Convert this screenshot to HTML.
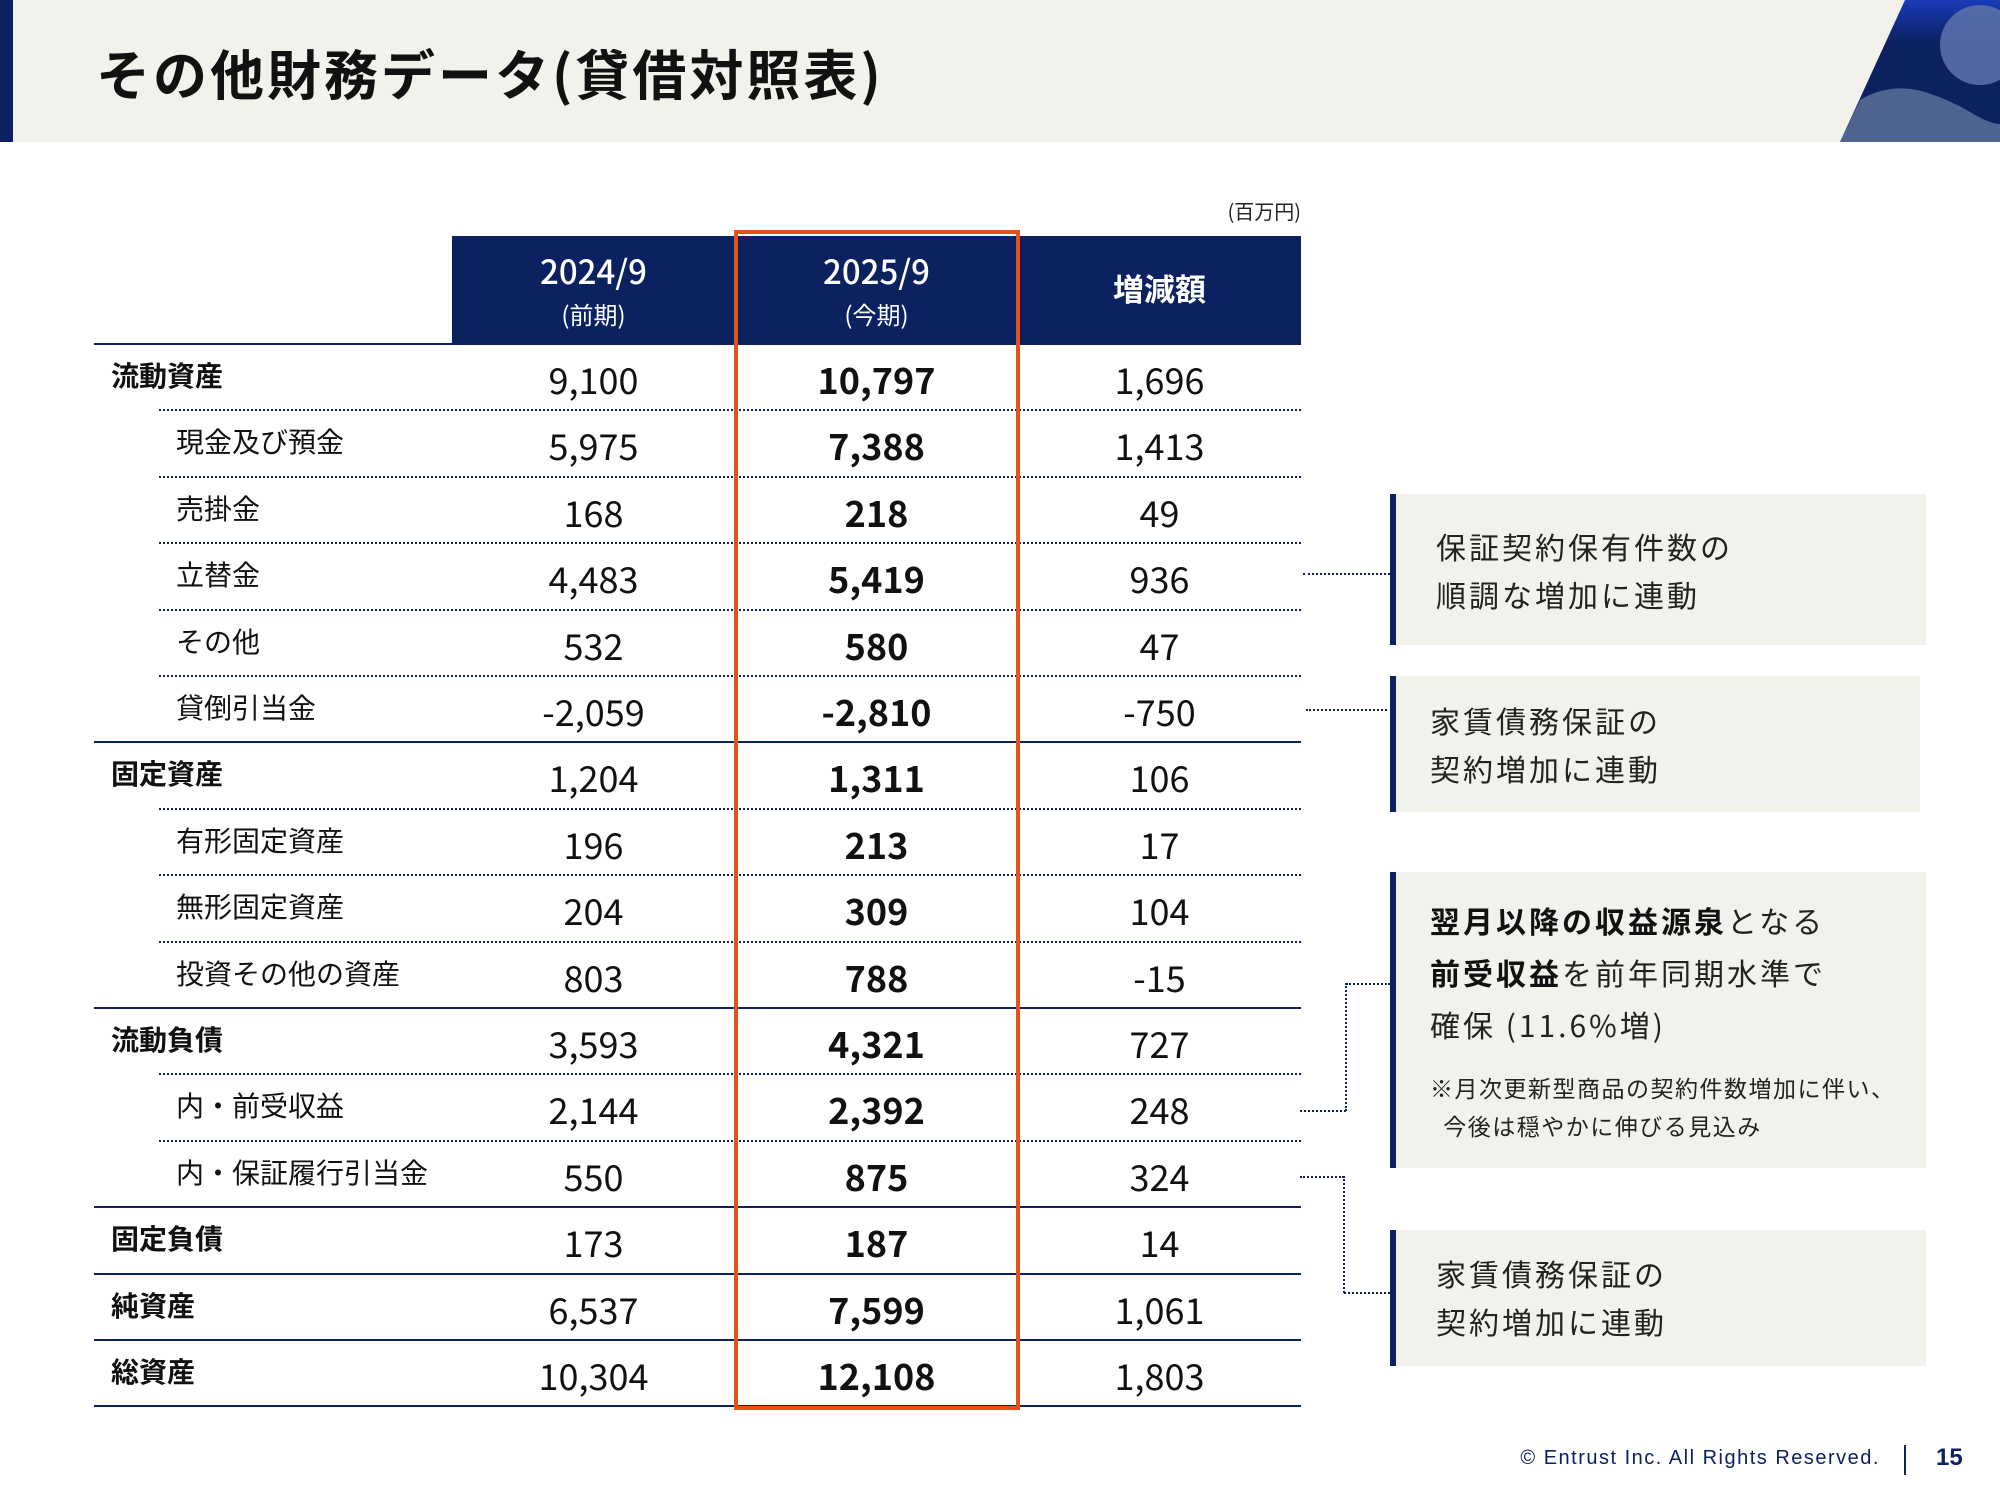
<!DOCTYPE html>
<html><head><meta charset="utf-8"><style>
*{margin:0;padding:0;box-sizing:border-box}
body{width:2000px;height:1500px;position:relative;background:#fff;font-family:"Liberation Sans","Noto Sans CJK JP",sans-serif;color:#111;overflow:hidden}
.a{position:absolute}
.hdr{left:0;top:0;width:2000px;height:142px;background:#f3f1eb}
.title{left:96px;top:32px;font-size:54px;font-weight:bold;letter-spacing:3px;font-family:"Noto Sans CJK JP",sans-serif;color:#111}
.th{background:#0b2160;color:#fff;text-align:center;font-family:"Noto Sans CJK JP",sans-serif}
.lbl{font-family:"Noto Sans CJK JP",sans-serif;font-size:28px;line-height:40px}
.num{font-family:"Noto Sans CJK JP",sans-serif;font-size:36px;line-height:44px;text-align:center;width:283px}
.dot{border-top:2px dotted #0b2160;height:0}
.sol{border-top:2px solid #0b2160;height:0}
.box{background:#f3f1eb;border-left:6px solid #0b2160}
.bt{font-family:"Noto Sans CJK JP",sans-serif;font-size:30px;letter-spacing:3px;color:#222;white-space:nowrap}
.vd{border-left:2px dotted #0b2160;width:0}
</style></head><body>
<div class="a hdr"></div>
<div class="a" style="left:0;top:0;width:13px;height:142px;background:#0b2160"></div>
<div class="a title">その他財務データ(貸借対照表)</div>
<svg class="a" style="left:1830px;top:0" width="170" height="142">
<defs><linearGradient id="g" x1="0" y1="0" x2="0" y2="1"><stop offset="0" stop-color="#1a3bb8"/><stop offset="0.3" stop-color="#0b2160"/><stop offset="1" stop-color="#0b2160"/></linearGradient></defs>
<polygon points="75,0 170,0 170,142 10,142" fill="url(#g)"/>
<circle cx="150" cy="45" r="40" fill="#5a6fa8" opacity="0.9"/>
<path d="M30,100 Q60,82 95,92 Q120,100 140,112 Q160,124 170,124 L170,142 L10,142 Z" fill="#4e6390"/>
</svg>

<div class="a" style="left:1220px;top:196px;font-size:20px;font-family:'Noto Sans CJK JP',sans-serif;width:81px;text-align:right;color:#222">(百万円)</div>

<div class="a th" style="left:452px;top:236px;width:849px;height:108px"></div>
<div class="a th" style="left:452px;top:250px;width:283px;font-size:33px;line-height:40px;font-weight:500">2024/9<br><span style="font-size:24px;line-height:32px;font-weight:400">(前期)</span></div>
<div class="a th" style="left:735px;top:250px;width:283px;font-size:33px;line-height:40px;font-weight:500">2025/9<br><span style="font-size:24px;line-height:32px;font-weight:400">(今期)</span></div>
<div class="a th" style="left:1018px;top:268px;width:283px;font-size:31px;line-height:40px;font-weight:bold">増減額</div>
<div class="a sol" style="left:94px;top:343px;width:1207px"></div>

<div id="rows"></div>
<script>
var R=[["流動資産","9,100","10,797","1,696",1,0],["現金及び預金","5,975","7,388","1,413",0,0],["売掛金","168","218","49",0,0],["立替金","4,483","5,419","936",0,0],["その他","532","580","47",0,0],["貸倒引当金","-2,059","-2,810","-750",0,1],["固定資産","1,204","1,311","106",1,0],["有形固定資産","196","213","17",0,0],["無形固定資産","204","309","104",0,0],["投資その他の資産","803","788","-15",0,1],["流動負債","3,593","4,321","727",1,0],["内・前受収益","2,144","2,392","248",0,0],["内・保証履行引当金","550","875","324",0,1],["固定負債","173","187","14",1,1],["純資産","6,537","7,599","1,061",1,1],["総資産","10,304","12,108","1,803",1,1]];
var h="";
for(var i=0;i<R.length;i++){var r=R[i],t=344+66.4*i;
h+='<div class="a lbl" style="left:'+(r[4]?111:176)+'px;top:'+(t+11)+'px;'+(r[4]?'font-weight:bold;':'')+'">'+r[0]+'</div>';
h+='<div class="a num" style="left:452px;top:'+(t+13)+'px">'+r[1]+'</div>';
h+='<div class="a num" style="left:735px;top:'+(t+13)+'px;font-weight:bold">'+r[2]+'</div>';
h+='<div class="a num" style="left:1018px;top:'+(t+13)+'px">'+r[3]+'</div>';
var y=t+66.4-1;
h+= r[5]?'<div class="a sol" style="left:94px;top:'+y+'px;width:1207px"></div>':'<div class="a dot" style="left:159px;top:'+y+'px;width:1142px"></div>';}
document.getElementById("rows").innerHTML=h;
</script>
<div class="a" style="left:734px;top:230px;width:286px;height:1180px;border:4px solid #e8501a"></div>

<div class="a box" style="left:1390px;top:494px;width:536px;height:151px"></div>
<div class="a bt" style="left:1436px;top:522px;line-height:48px">保証契約保有件数の<br>順調な増加に連動</div>
<div class="a box" style="left:1390px;top:676px;width:530px;height:136px"></div>
<div class="a bt" style="left:1430px;top:696px;line-height:48px">家賃債務保証の<br>契約増加に連動</div>
<div class="a box" style="left:1390px;top:872px;width:536px;height:296px"></div>
<div class="a bt" style="left:1430px;top:894px;line-height:52px"><b style="color:#111">翌月以降の収益源泉</b>となる<br><b style="color:#111">前受収益</b>を前年同期水準で<br>確保 (11.6%増)</div>
<div class="a bt" style="left:1430px;top:1068px;font-size:23px;letter-spacing:1.5px;line-height:38px">※月次更新型商品の契約件数増加に伴い、<br>&nbsp;&nbsp;今後は穏やかに伸びる見込み</div>
<div class="a box" style="left:1390px;top:1230px;width:536px;height:136px"></div>
<div class="a bt" style="left:1436px;top:1249px;line-height:48px">家賃債務保証の<br>契約増加に連動</div>

<div class="a dot" style="left:1303px;top:573px;width:87px"></div>
<div class="a dot" style="left:1306px;top:709px;width:81px"></div>
<div class="a dot" style="left:1300px;top:1110px;width:46px"></div>
<div class="a vd" style="left:1345px;top:983px;height:128px"></div>
<div class="a dot" style="left:1346px;top:983px;width:44px"></div>
<div class="a dot" style="left:1300px;top:1176px;width:44px"></div>
<div class="a vd" style="left:1343px;top:1176px;height:117px"></div>
<div class="a dot" style="left:1344px;top:1292px;width:46px"></div>

<div class="a" style="left:1440px;top:1447px;width:440px;text-align:right;font-size:20px;letter-spacing:1.5px;color:#0b2160">© Entrust Inc. All Rights Reserved.</div>
<div class="a" style="left:1904px;top:1445px;width:2px;height:30px;background:#0b2160"></div>
<div class="a" style="left:1936px;top:1444px;font-size:24px;font-weight:bold;color:#0b2160">15</div>
</body></html>
